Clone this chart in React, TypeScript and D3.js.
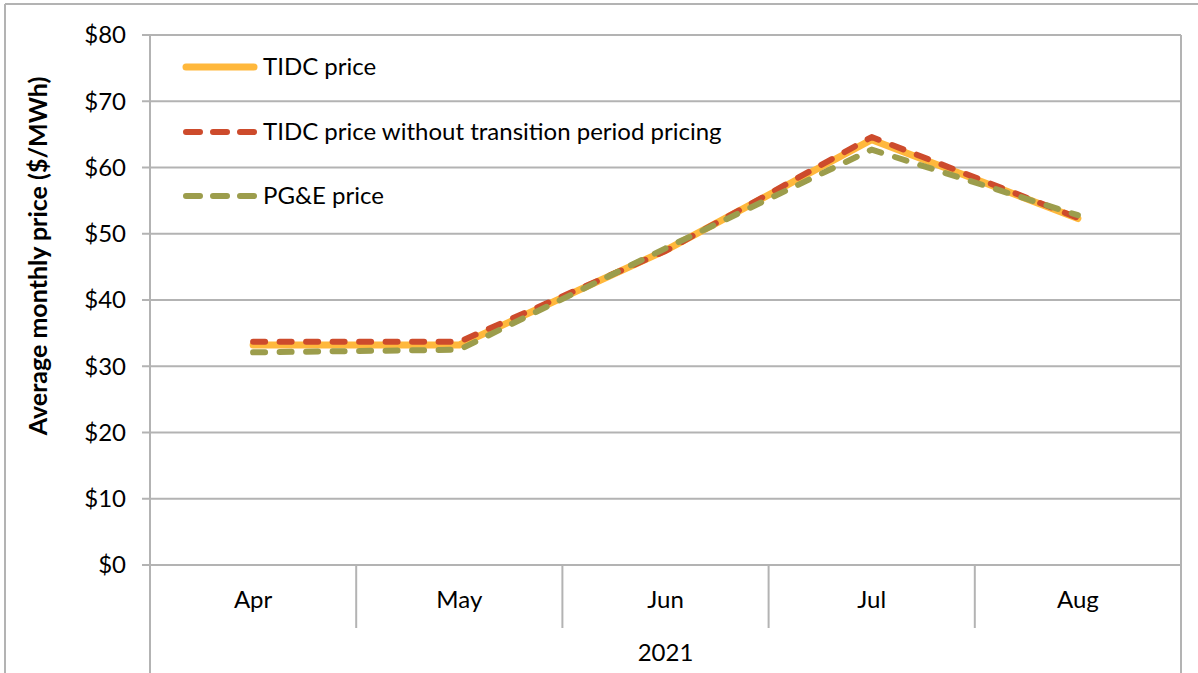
import React from "react";
import * as d3 from "d3";

const months = ["Apr", "May", "Jun", "Jul", "Aug"];
const yearLabel = "2021";
const tidcPrice = [33.2, 33.2, 47.5, 64.2, 52.3];
const tidcNoTransition = [33.7, 33.7, 47.4, 64.6, 52.4];
const pgePrice = [32.1, 32.5, 47.8, 62.7, 52.8];
const yTicks = [0, 10, 20, 30, 40, 50, 60, 70, 80];
const seriesNames = ["TIDC price", "TIDC price without transition period pricing", "PG&E price"];

const W = 1198, H = 673;
const L = 150, R = 1181, T = 35, B = 565;
const FONT = "Lato, 'Open Sans', sans-serif";
const GRID = "#b3b3b3";

export default function App() {
  const x = d3.scaleBand<string>().domain(months).range([L, R]);
  const y = d3.scaleLinear().domain([0, 80]).range([B, T]);
  const line = d3
    .line<number>()
    .x((_, i) => (x(months[i]) as number) + x.bandwidth() / 2)
    .y((d) => y(d));

  const series = [
    { name: seriesNames[0], data: tidcPrice, color: "#FFB83C", width: 7, dash: "none" },
    { name: seriesNames[1], data: tidcNoTransition, color: "#CD4B2C", width: 6, dash: "12 14.5" },
    { name: seriesNames[2], data: pgePrice, color: "#9C9D4C", width: 6, dash: "12 14.5" },
  ];
  const legendY = [67, 132, 196];
  const seps = months.map((m) => x(m) as number).concat([R]);

  return (
    <svg width={W} height={H} style={{ display: "block", position: "absolute", left: 0, top: 0 }}>
      <rect x={0} y={0} width={W} height={H} fill="#fff" />
      {/* outer border */}
      <line x1={5} y1={4} x2={W} y2={4} stroke={GRID} strokeWidth={2} />
      <line x1={5} y1={4} x2={5} y2={H} stroke={GRID} strokeWidth={2} />
      {/* gridlines */}
      {yTicks.map((t) => (
        <g key={t}>
          <line x1={142} x2={R} y1={y(t)} y2={y(t)} stroke={GRID} strokeWidth={2} />
          <text x={126} y={y(t)} dy="0.35em" textAnchor="end" fontFamily={FONT} fontSize={24} fill="#000">
            {"$" + t}
          </text>
        </g>
      ))}
      {/* plot borders */}
      <line x1={L} x2={L} y1={T} y2={H} stroke={GRID} strokeWidth={2} />
      <line x1={R} x2={R} y1={T} y2={H} stroke={GRID} strokeWidth={2} />
      {seps.slice(1, -1).map((s, i) => (
        <line key={i} x1={s} x2={s} y1={B} y2={628} stroke={GRID} strokeWidth={2} />
      ))}
      {months.map((m) => (
        <text key={m} x={(x(m) as number) + x.bandwidth() / 2} y={608} textAnchor="middle" fontFamily={FONT} fontSize={24} fill="#000">
          {m}
        </text>
      ))}
      <text x={(L + R) / 2} y={661} textAnchor="middle" fontFamily={FONT} fontSize={24} fill="#000">
        {yearLabel}
      </text>
      {/* axis title */}
      <text
        transform={`translate(47,256) rotate(-90)`}
        textAnchor="middle"
        fontFamily={FONT}
        fontSize={25}
        fontWeight="bold"
        fill="#000"
      >
        Average monthly price ($/MWh)
      </text>
      {/* series */}
      {series.map((s) => (
        <path
          key={s.name}
          d={line(s.data) || ""}
          fill="none"
          stroke={s.color}
          strokeWidth={s.width}
          strokeDasharray={s.dash}
          strokeLinecap="round"
          strokeLinejoin="round"
        />
      ))}
      {/* legend */}
      {series.map((s, i) => (
        <g key={s.name}>
          <line
            x1={186}
            x2={254}
            y1={legendY[i]}
            y2={legendY[i]}
            stroke={s.color}
            strokeWidth={s.width}
            strokeDasharray={s.dash === "none" ? "none" : "14 13"}
            strokeLinecap="round"
          />
          <text x={263} y={legendY[i]} dy="0.35em" fontFamily={FONT} fontSize={24} fill="#000">
            {s.name}
          </text>
        </g>
      ))}
    </svg>
  );
}
